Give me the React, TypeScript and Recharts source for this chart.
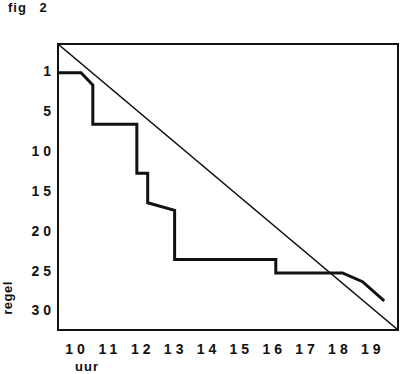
import React from 'react'
import { LineChart, Line, XAxis, YAxis, ReferenceArea } from 'recharts'

// stepped curve (uur = hour, regel = line)
const hours = [9.48, 10.18, 10.54, 10.54, 11.88, 11.88, 12.21, 12.21, 13.03, 13.03, 16.11, 16.11, 18.14, 18.75, 19.41]
const regel = [0.2, 0.2, 1.75, 6.65, 6.65, 12.8, 12.8, 16.5, 17.45, 23.6, 23.6, 25.3, 25.3, 26.4, 28.8]

// straight reference diagonal, corner to corner
const diagonalHours = [9.48, 19.83]
const diagonalRegel = [-3.4, 32.45]

const hourTicks = [10, 11, 12, 13, 14, 15, 16, 17, 18, 19]
const regelTicks = [0, 5, 10, 15, 20, 25, 30]
const regelTickLabels = ['1', '5', '10', '15', '20', '25', '30']

const ink = '#111'
const font = '"Liberation Sans", Arial, sans-serif'

const stepData = hours.map((h, i) => ({ h, r: regel[i] }))
const diagonalData = diagonalHours.map((h, i) => ({ h, r: diagonalRegel[i] }))

const tickStyle = { fill: ink, fontSize: 14, fontWeight: 700, fontFamily: font, letterSpacing: 4 }

export default function App() {
  return (
    <div style={{ position: 'absolute', left: 0, top: 0, width: 400, height: 374, background: '#fff' }}>
      <div
        style={{
          position: 'absolute',
          left: 8,
          top: 0,
          fontFamily: font,
          fontWeight: 700,
          fontSize: 13,
          color: ink,
          letterSpacing: 1,
          wordSpacing: 8,
          lineHeight: '15px',
        }}
      >
        fig 2
      </div>
      <LineChart width={400} height={374} margin={{ top: 44, right: 2, left: 0, bottom: 0 }}>
        <XAxis
          type='number'
          dataKey='h'
          domain={[diagonalHours[0], diagonalHours[1]]}
          ticks={hourTicks}
          interval={0}
          axisLine={false}
          tickLine={false}
          tickSize={0}
          tickMargin={14}
          height={44}
          tick={{ ...tickStyle, dx: 2 }}
          allowDataOverflow
          label={{
            content: (props: any) => {
              const vb = props.viewBox
              return (
                <text x={vb.x + 17} y={vb.y + vb.height - 3} fill={ink} fontFamily={font} fontWeight={700} fontSize={13} letterSpacing={1}>
                  uur
                </text>
              )
            },
          }}
        />
        <YAxis
          type='number'
          dataKey='r'
          reversed
          domain={[diagonalRegel[0], diagonalRegel[1]]}
          ticks={regelTicks}
          interval={0}
          axisLine={false}
          tickLine={false}
          tickSize={0}
          tickMargin={3}
          width={58}
          tick={tickStyle}
          tickFormatter={(v: number) => regelTickLabels[regelTicks.indexOf(v)]}
          allowDataOverflow
          label={{
            content: (props: any) => {
              const vb = props.viewBox
              const x = vb.x + 12
              const y = vb.y + 254
              return (
                <text x={x} y={y} transform={`rotate(-90 ${x} ${y})`} textAnchor='middle' fill={ink} fontFamily={font} fontWeight={700} fontSize={13} letterSpacing={0.5}>
                  regel
                </text>
              )
            },
          }}
        />
        <ReferenceArea
          x1={diagonalHours[0]}
          x2={diagonalHours[1]}
          y1={diagonalRegel[0]}
          y2={diagonalRegel[1]}
          fill='none'
          stroke={ink}
          strokeWidth={2}
          ifOverflow='visible'
        />
        <Line
          data={diagonalData}
          dataKey='r'
          type='linear'
          stroke={ink}
          strokeWidth={1.4}
          dot={false}
          isAnimationActive={false}
        />
        <Line
          data={stepData}
          dataKey='r'
          type='linear'
          stroke={ink}
          strokeWidth={3}
          strokeLinejoin='miter'
          dot={false}
          isAnimationActive={false}
        />
      </LineChart>
    </div>
  )
}
